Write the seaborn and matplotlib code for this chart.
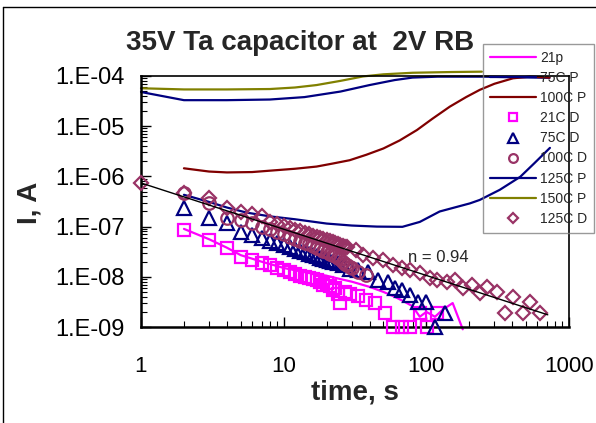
import numpy as np
import pandas as pd
import matplotlib
matplotlib.use("Agg")
import matplotlib.pyplot as plt
import seaborn as sns
from matplotlib.ticker import LogLocator, NullFormatter
from matplotlib.lines import Line2D

# ---------------- data ----------------
t_21p = [2, 3, 4, 5, 6, 7, 8, 10, 12, 15, 20, 25, 30, 40, 50, 60, 70, 80, 90, 100, 115, 130, 153, 180]
i_21p = [9.0e-8, 5.6e-8, 3.8e-8, 2.7e-8, 2.3e-8, 2.0e-8, 1.8e-8, 1.5e-8, 1.35e-8, 1.2e-8, 1.05e-8,
         9.0e-9, 8.0e-9, 6.3e-9, 5.0e-9, 4.0e-9, 3.2e-9, 2.6e-9, 1.6e-9, 2.0e-9, 1.6e-9, 2.2e-9, 3.0e-9, 9.0e-10]

t_75p = [1, 2, 4, 8, 14, 25, 40, 60, 80, 120, 250, 730]
i_75p = [4.8e-5, 3.3e-5, 3.3e-5, 3.4e-5, 3.8e-5, 4.9e-5, 6.6e-5, 8.3e-5, 9.3e-5, 9.7e-5, 9.7e-5, 9.2e-5]

t_100p = [2, 3, 4, 6, 8, 12, 17, 22, 29, 38, 50, 65, 86, 110, 146, 190, 237, 300, 405, 530, 730]
i_100p = [1.45e-6, 1.25e-6, 1.2e-6, 1.22e-6, 1.3e-6, 1.42e-6, 1.57e-6, 1.8e-6, 2.1e-6, 2.7e-6, 3.6e-6,
          5.2e-6, 8.4e-6, 1.4e-5, 2.45e-5, 3.8e-5, 5.3e-5, 7.0e-5, 9.0e-5, 9.7e-5, 9.3e-5]

t_21d = [2, 3, 4, 5, 6, 7, 8, 9, 10, 11, 12, 13, 14, 15, 16, 17, 18, 19, 20, 21, 22, 23, 24, 25,
         27, 29, 33, 38, 44, 51, 58, 67, 77, 90, 101, 118]
i_21d = [8.5e-8, 5.4e-8, 3.7e-8, 2.5e-8, 2.2e-8, 1.9e-8, 1.7e-8, 1.5e-8, 1.35e-8, 1.25e-8, 1.15e-8,
         1.05e-8, 1.0e-8, 9.5e-9, 9.0e-9, 8.5e-9, 8.0e-9, 7.0e-9, 7.6e-9, 6.5e-9, 5.5e-9, 6.0e-9,
         4.5e-9, 3.0e-9, 5.0e-9, 4.5e-9, 4.2e-9, 3.5e-9, 3.0e-9, 1.9e-9, 1.0e-9, 1.0e-9, 1.0e-9,
         1.9e-9, 1.0e-9, 1.9e-9]

t_75d = [2, 3, 4, 5, 6, 7, 8, 9, 10, 11, 12, 13, 14, 15, 16, 17, 18, 19, 20, 21, 22, 24, 26, 29,
         33, 39, 46, 54, 60, 67, 77, 87, 100, 115, 135]
i_75d = [2.35e-7, 1.48e-7, 1.17e-7, 7.8e-8, 6.9e-8, 5.9e-8, 5.2e-8, 4.7e-8, 4.3e-8, 3.9e-8, 3.6e-8,
         3.3e-8, 3.1e-8, 2.9e-8, 2.7e-8, 2.55e-8, 2.4e-8, 2.3e-8, 2.2e-8, 2.1e-8, 2.0e-8, 1.9e-8,
         1.7e-8, 1.45e-8, 1.36e-8, 1.24e-8, 8.7e-9, 7.9e-9, 6.0e-9, 5.5e-9, 4.4e-9, 3.1e-9, 3.1e-9,
         1.0e-9, 1.9e-9]

t_100d = [2, 3, 4, 5, 6, 7, 8, 9, 10, 11, 12, 13, 14, 15, 16, 17, 18, 19, 20, 21, 22, 23, 24, 25,
          26, 27, 28, 29, 30, 33, 38]
i_100d = [4.6e-7, 2.95e-7, 1.5e-7, 1.35e-7, 1.2e-7, 9.8e-8, 8.8e-8, 7.9e-8, 7.0e-8, 6.3e-8, 5.7e-8,
          5.2e-8, 4.8e-8, 4.4e-8, 4.1e-8, 3.8e-8, 3.5e-8, 3.3e-8, 3.1e-8, 2.9e-8, 2.7e-8, 2.55e-8,
          2.4e-8, 2.3e-8, 2.0e-8, 1.8e-8, 1.7e-8, 1.6e-8, 1.5e-8, 1.25e-8, 1.1e-8]

t_125p = [2, 3, 4, 5.5, 8, 12, 20, 30, 45, 68, 90, 124, 202, 237, 327, 455, 575, 735]
i_125p = [4.3e-7, 3.1e-7, 2.4e-7, 1.9e-7, 1.6e-7, 1.4e-7, 1.15e-7, 1.05e-7, 1.0e-7, 9.9e-8, 1.24e-7,
          2.0e-7, 2.9e-7, 3.4e-7, 5.4e-7, 9.8e-7, 1.86e-6, 3.7e-6]

t_150p = [1, 2, 4, 8, 12, 17, 25, 36, 50, 80, 150, 245]
i_150p = [5.7e-5, 5.4e-5, 5.4e-5, 5.5e-5, 5.9e-5, 6.6e-5, 8.0e-5, 9.8e-5, 1.08e-4, 1.16e-4, 1.2e-4, 1.22e-4]

t_125d = [1, 2, 3, 4, 5, 6, 7, 8, 9, 10, 11, 12, 13, 14, 15, 16, 17, 18, 19, 20, 21, 22, 23, 24,
          25, 26, 27, 28, 32, 36, 42, 50, 58, 67, 77, 90, 106, 118, 139, 158, 181, 209, 238, 266,
          312, 355, 405, 475, 534, 626]
i_125d = [7.4e-7, 4.7e-7, 3.7e-7, 2.3e-7, 1.95e-7, 1.8e-7, 1.6e-7, 1.26e-7, 1.13e-7, 1.02e-7, 9.3e-8,
          8.6e-8, 8.0e-8, 7.45e-8, 7.0e-8, 6.6e-8, 6.2e-8, 5.9e-8, 5.6e-8, 5.3e-8, 5.1e-8, 4.9e-8,
          4.7e-8, 4.5e-8, 4.3e-8, 4.2e-8, 4.0e-8, 3.9e-8, 3.4e-8, 2.7e-8, 2.4e-8, 2.2e-8, 1.7e-8,
          1.5e-8, 1.36e-8, 1.19e-8, 9.5e-9, 8.6e-9, 7.9e-9, 8.6e-9, 6.0e-9, 6.9e-9, 4.75e-9, 6.3e-9,
          5.0e-9, 1.9e-9, 4.0e-9, 1.9e-9, 3.15e-9, 1.9e-9]

fit_t = [1, 710]
fit_i = [7.4e-7, 1.75e-9]

x_ticks = [1, 10, 100, 1000]
x_labels = ["1", "10", "100", "1000"]
y_ticks = [1e-9, 1e-8, 1e-7, 1e-6, 1e-5, 1e-4]
y_labels = ["1.E-09", "1.E-08", "1.E-07", "1.E-06", "1.E-05", "1.E-04"]

# ---------------- style ----------------
sns.set_style("white")
plt.rcParams["font.family"] = ["Liberation Sans", "DejaVu Sans"]

MAG = "#FF00FF"
NAVY = "#000080"
DRED = "#800000"
OLIVE = "#808000"
PLUM = "#993366"

W, H = 596, 423
fig = plt.figure(figsize=(W / 100, H / 100), dpi=100)
ax = fig.add_axes([141 / W, 1 - 327 / H, (569 - 141) / W, (327 - 76) / H])
ax.set_xscale("log")
ax.set_yscale("log")


def draw_line(t, i, color, label, lw=1.6):
    df = pd.DataFrame({"t": t, "I": i})
    sns.lineplot(data=df, x="t", y="I", color=color, lw=lw, label=label, sort=False,
                 estimator=None, ax=ax, clip_on=False, zorder=2)


def draw_pts(t, i, color, marker, label, ms=7.0):
    df = pd.DataFrame({"t": t, "I": i})
    sns.lineplot(data=df, x="t", y="I", color=color, linestyle="none", marker=marker,
                 markersize=ms, markerfacecolor="none", markeredgecolor=color,
                 markeredgewidth=1.6, label=label, sort=False, estimator=None, ax=ax,
                 clip_on=False, zorder=3)


draw_line(t_21p, i_21p, MAG, "21p")
draw_line(t_75p, i_75p, NAVY, "75C P")
draw_line(t_100p, i_100p, DRED, "100C P")
draw_pts(t_21d, i_21d, MAG, "s", "21C D", 8.5)
draw_pts(t_75d, i_75d, NAVY, "^", "75C D", 9.5)
draw_pts(t_100d, i_100d, PLUM, "o", "100C D", 9.0)
draw_line(t_125p, i_125p, NAVY, "125C P")
draw_line(t_150p, i_150p, OLIVE, "150C P")
draw_pts(t_125d, i_125d, PLUM, "D", "125C D", 7.5)

sns.lineplot(data=pd.DataFrame({"t": fit_t, "I": fit_i}), x="t", y="I", color="black", lw=1.0,
             sort=False, estimator=None, ax=ax, legend=False, zorder=4)

ax.set_xlim(1, 1000)
ax.set_ylim(1e-9, 1e-4)
ax.set_xticks(x_ticks, x_labels)
ax.set_yticks(y_ticks, y_labels)
ax.xaxis.set_minor_locator(LogLocator(base=10, subs=np.arange(2, 10)))
ax.yaxis.set_minor_locator(LogLocator(base=10, subs=np.arange(2, 10), numticks=20))
ax.xaxis.set_minor_formatter(NullFormatter())
ax.yaxis.set_minor_formatter(NullFormatter())
ax.tick_params(which="both", direction="in", top=False, right=False, left=True, bottom=True,
               colors="black")
ax.tick_params(which="major", length=7, width=1.0)
ax.tick_params(which="minor", length=4, width=0.8)
ax.tick_params(axis="x", which="major", pad=21, labelsize=16)
ax.tick_params(axis="y", which="major", pad=12, labelsize=17)
ax.set_xlabel("")
ax.set_ylabel("")
for s in ["left", "bottom"]:
    ax.spines[s].set_linewidth(1.8)
    ax.spines[s].set_color("black")
for s in ["top", "right"]:
    ax.spines[s].set_linewidth(1.2)
    ax.spines[s].set_color("black")

leg = ax.legend(loc="upper left", bbox_to_anchor=(483 / W, 1 - 44 / H),
                bbox_transform=fig.transFigure, frameon=True, fancybox=False,
                edgecolor="#808080", facecolor="none", fontsize=10, handlelength=3.3,
                handletextpad=0.3, labelspacing=0.44, borderpad=0.5, markerscale=0.7,
                borderaxespad=0)
leg.get_frame().set_linewidth(1.0)

fig.text(300 / W, 1 - 43 / H, "35V Ta capacitor at  2V RB", ha="center", va="center",
         fontsize=20, fontweight="bold")
fig.text(30 / W, 1 - 203 / H, "I, A", rotation=90, ha="center", va="center",
         fontsize=20, fontweight="bold")
fig.text(355 / W, 1 - 392 / H, "time, s", ha="center", va="center",
         fontsize=20, fontweight="bold")
fig.text(438 / W, 1 - 257 / H, "n = 0.94", ha="center", va="center", fontsize=12)

# outer chart border
fig.add_artist(Line2D([3 / W, 3 / W], [0, 1 - 7 / H], transform=fig.transFigure,
                      color="black", lw=1.0))
fig.add_artist(Line2D([3 / W, 1], [1 - 7 / H, 1 - 7 / H], transform=fig.transFigure,
                      color="black", lw=1.0))

fig.savefig("out.png", dpi=100)
